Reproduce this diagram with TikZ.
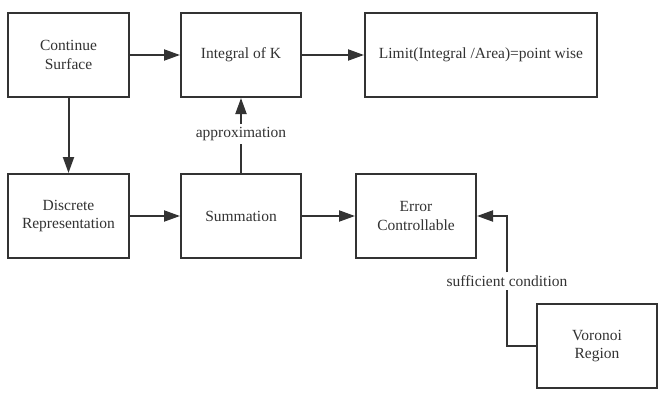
\documentclass[tikz,border=0pt]{standalone}
\usepackage{fontspec}
\setmainfont{Liberation Serif}
\usetikzlibrary{arrows.meta}
\pgfdeclarelayer{edgelayer}
\pgfdeclarelayer{nodelayer}
\pgfsetlayers{edgelayer,nodelayer,main}
\definecolor{boxline}{HTML}{333333}
\tikzstyle{none}=[inner sep=3pt,text=boxline,font=\fontsize{15.5}{18}\selectfont]
\tikzstyle{block}=[rectangle,draw=boxline,line width=2pt,fill=white,text=boxline,align=center,minimum height=84pt,font=\fontsize{15.5}{18.5}\selectfont]
\tikzstyle{transition}=[-{Triangle[length=16pt,width=11pt]},draw=boxline,line width=2pt]
\tikzstyle{plain}=[draw=boxline,line width=2pt]

\begin{document}
\begin{tikzpicture}[x=1pt,y=-1pt]
	\useasboundingbox (0,0) rectangle (664,400);
	\begin{pgfonlayer}{nodelayer}
		\node [style=block,minimum width=121pt] (0) at (68.5, 55) {Continue\\Surface};
		\node [style=block,minimum width=120pt] (1) at (241, 55) {Integral of K};
		\node [style=block,minimum width=232pt] (2) at (481, 55) {Limit(Integral /Area)=point wise};
		\node [style=block,minimum width=121pt] (3) at (68.5, 216) {Discrete\\Representation};
		\node [style=block,minimum width=120pt] (4) at (241, 216) {Summation};
		\node [style=block,minimum width=120pt] (5) at (416, 216) {Error\\Controllable};
		\node [style=block,minimum width=120pt] (6) at (597, 346) {Voronoi\\Region};
		\node [style=none] (7) at (241, 134) {approximation};
		\node [style=none] (8) at (507, 281) {sufficient condition};
	\end{pgfonlayer}
	\begin{pgfonlayer}{edgelayer}
		\draw [style=transition] (0) to (1);
		\draw [style=transition] (1) to (2);
		\draw [style=transition] (0) to (3);
		\draw [style=transition] (3) to (4);
		\draw [style=transition] (4) to (5);
		\draw [style=plain] (4) to (7);
		\draw [style=transition] (7) to (1);
		\draw [style=plain] (6.west) -| (8.south);
		\draw [style=transition] (8.north) |- (5.east);
	\end{pgfonlayer}
\end{tikzpicture}
\end{document}
